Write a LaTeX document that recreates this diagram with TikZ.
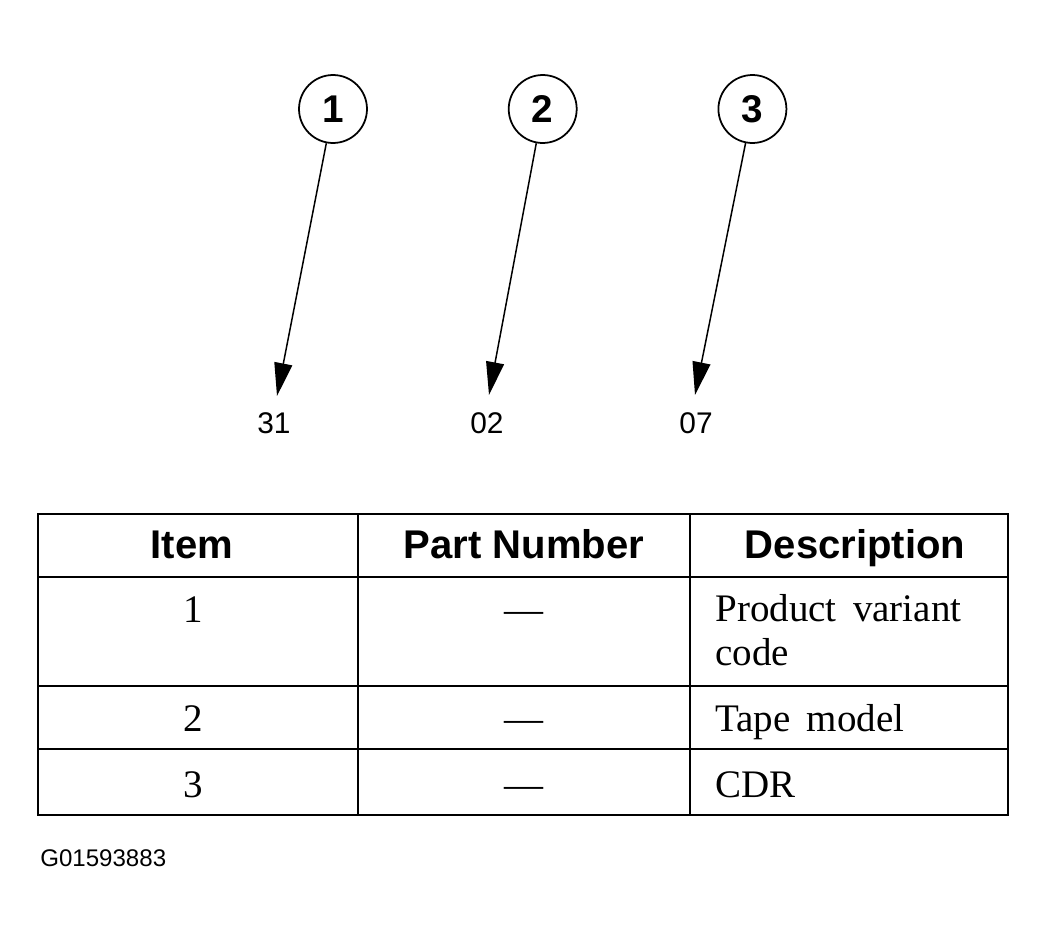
\documentclass[tikz,border=0pt]{standalone}
\usepackage{fontspec}
\setmainfont{Liberation Serif}
\setsansfont{Liberation Sans}
\usetikzlibrary{arrows.meta, positioning}
\newcommand{\widespace}{\spaceskip=0.42em\relax}

\begin{document}
\begin{tikzpicture}[
    x=0.02cm, y=-0.02cm,
    callout/.style={circle, draw, line width=1pt, minimum size=1.36cm, inner sep=0pt, font=\sffamily\bfseries\fontsize{22}{26}\selectfont},
    leader/.style={line width=0.85pt, -{Triangle[length=0.66cm, width=0.36cm]}},
    code/.style={font=\sffamily\fontsize{17}{20}\selectfont, anchor=base},
    head/.style={font=\sffamily\bfseries\fontsize{22.8}{27}\selectfont, anchor=base},
    cell/.style={font=\fontsize{22.2}{25}\selectfont, anchor=base},
    desc/.style={font=\fontsize{22.2}{25}\selectfont, anchor=base west, align=left, inner sep=0pt},
    grid/.style={line width=1.4pt}
]
\useasboundingbox (0,0) rectangle (1049,940);

% callouts and leaders
\node[callout] (c1) at (333,109) {1};
\node[callout, right=2.8cm of c1] (c2) {2};
\node[callout, right=2.8cm of c2] (c3) {3};

\coordinate (t1) at (277,396);
\coordinate (t2) at (489,395);
\coordinate (t3) at (695,395);

\draw[leader] (c1) -- (t1);
\draw[leader] (c2) -- (t2);
\draw[leader] (c3) -- (t3);

\node[code] (v1) at (274,433) {31};
\node[code] (v2) at (487,433) {02};
\node[code] (v3) at (696,433) {07};

% table
\draw[grid] (38,514) rectangle (1008,815);
\foreach \x in {358,690} \draw[grid] (\x,514) -- (\x,815);
\foreach \y in {577,686,749} \draw[grid] (38,\y) -- (1008,\y);

\node[head] (hitem) at (192,558) {Item};
\node[head] (hpart) at (524,558) {Part Number};
\node[head] (hdesc) at (855,558) {Description};

\node[cell] (i1) at (193,622) {1};
\node[cell] (i2) at (193,731) {2};
\node[cell] (i3) at (193,797) {3};
\node[cell] (p1) at (524,622) {---};
\node[cell] (p2) at (524,731) {---};
\node[cell] (p3) at (524,797) {---};
\node[desc] (d1) at (715,665) {\widespace Product variant\\code};
\node[desc] (d2) at (715,731) {\widespace Tape model};
\node[desc] (d3) at (715,797) {CDR};

\node[font=\sffamily\fontsize{13.7}{16}\selectfont, anchor=base west, inner sep=0pt] (gref) at (40,866) {G01593883};
\end{tikzpicture}
\end{document}
